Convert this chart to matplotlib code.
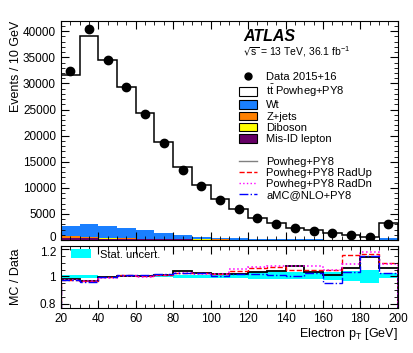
import numpy as np
import matplotlib
matplotlib.use('Agg')
import matplotlib.pyplot as plt
import matplotlib.transforms as mtransforms
from matplotlib.lines import Line2D
from matplotlib.patches import Patch
from matplotlib.ticker import MultipleLocator

plt.rcParams['font.family'] = ['Liberation Sans', 'DejaVu Sans']
plt.rcParams['mathtext.default'] = 'regular'

# Bins in electron pT [GeV]
edges = np.arange(20, 210, 10)
centers = edges[:-1] + 5

# Data and stacked predictions (events / 10 GeV)
data = [32400, 40500, 34500, 29300, 24200, 18550, 13450, 10300, 7690, 5900,
        4170, 3140, 2240, 1800, 1350, 960, 520, 3140]
ttbar = [28920, 36000, 31750, 27030, 22420, 17320, 13030, 9890, 7430, 5680,
         4050, 3070, 2240, 1730, 1270, 940, 530, 3000]
wt = [1940, 2460, 2185, 1910, 1595, 1160, 750, 473, 310, 232,
      182, 145, 113, 91, 67, 54, 40, 254]
zjets = [380, 250, 150, 100, 70, 50, 35, 25, 20, 15, 12, 10, 8, 6, 5, 4, 3, 10]
diboson = [40, 40, 35, 30, 25, 20, 16, 12, 10, 8, 6, 5, 4, 3, 3, 2, 2, 6]
misid = [420, 350, 280, 230, 190, 150, 120, 100, 80, 65, 50, 40, 35, 30, 25, 20, 15, 60]

# MC / Data ratios
r_nominal = [0.98, 0.963, 0.995, 1.0, 1.005, 1.007, 1.037, 1.022, 1.02, 1.02,
             1.034, 1.04, 1.076, 1.032, 1.012, 1.06, 1.139, 1.06]
r_radup = [0.976, 0.963, 0.993, 1.007, 1.005, 1.01, 1.024, 1.022, 1.015, 1.04,
           1.063, 1.068, 1.049, 1.049, 1.044, 1.156, 1.166, 1.098]
r_raddn = [0.976, 0.966, 0.99, 1.005, 0.993, 1.01, 1.024, 1.017, 1.015, 1.054,
           1.068, 1.078, 1.078, 1.078, 1.049, 1.093, 1.176, 1.093]
r_amc = [0.976, 0.961, 0.995, 1.01, 1.01, 1.015, 1.027, 1.024, 1.005, 1.015,
         1.02, 1.01, 1.005, 1.024, 0.951, 1.03, 1.151, 1.024]
stat_lo = [0.985, 0.985, 0.993, 0.993, 0.993, 0.993, 0.99, 0.99, 0.99, 0.988,
           0.983, 0.982, 0.98, 0.978, 0.975, 0.963, 0.955, 0.985]
stat_hi = [1.014, 1.014, 1.006, 1.006, 1.006, 1.007, 1.01, 1.012, 1.015, 1.025,
           1.033, 1.03, 1.03, 1.03, 1.03, 1.037, 1.05, 1.025]

fig = plt.figure(figsize=(4.14, 3.53), dpi=100)
ax = fig.add_axes([0.147, 0.320, 0.814, 0.621])
rax = fig.add_axes([0.147, 0.128, 0.814, 0.174])

# stack: mis-ID, diboson, Z+jets, Wt, ttbar
stack = [(misid, '#660066'),
         (diboson, '#ffff00'),
         (zjets, '#ff8000'),
         (wt, '#1a7fff'),
         (ttbar, 'white')]
base = np.zeros(len(centers))
for vals, col in stack:
    top = base + np.array(vals)
    ax.stairs(top, edges, baseline=base, fill=True, color=col, lw=0)
    base = top
ax.stairs(base, edges, color='black', lw=1.1)
ax.plot(centers, data, 'o', color='black', ms=6, zorder=5)

ax.set_xlim(20, 200)
ax.set_ylim(0, 42000)
ax.set_ylabel('Events / 10 GeV', loc='top', fontsize=9)
ax.yaxis.set_label_coords(-0.115, 1.0)
ax.tick_params(labelbottom=False)

for a in (ax, rax):
    a.tick_params(which='both', direction='in', top=True, right=True, labelsize=8.5)
    a.tick_params(which='major', length=6)
    a.tick_params(which='minor', length=3)
    a.xaxis.set_major_locator(MultipleLocator(20))
    a.xaxis.set_minor_locator(MultipleLocator(5))
ax.yaxis.set_major_locator(MultipleLocator(5000))
ax.yaxis.set_minor_locator(MultipleLocator(1000))

ax.text(0.54, 0.93, 'ATLAS', transform=ax.transAxes, fontsize=11.5,
        fontweight='bold', fontstyle='italic', va='center')
ax.text(0.54, 0.859, '$\\sqrt{s}$ = 13 TeV, 36.1 fb$^{-1}$', transform=ax.transAxes,
        fontsize=7.5, va='center')

handles = [
    Line2D([], [], marker='o', color='black', ls='none', ms=5),
    Patch(facecolor='white', edgecolor='black', lw=0.8),
    Patch(facecolor='#1a7fff', edgecolor='black', lw=0.8),
    Patch(facecolor='#ff8000', edgecolor='black', lw=0.8),
    Patch(facecolor='#ffff00', edgecolor='black', lw=0.8),
    Patch(facecolor='#660066', edgecolor='black', lw=0.8),
    Line2D([], [], color='none'),
    Line2D([], [], color='#808080', lw=1),
    Line2D([], [], color='red', ls='--', lw=1),
    Line2D([], [], color='magenta', ls=':', lw=1),
    Line2D([], [], color='blue', ls='-.', lw=1),
]
labels = ['Data 2015+16', 't$\\bar{t}$ Powheg+PY8', 'Wt', 'Z+jets', 'Diboson',
          'Mis-ID lepton', ' ', 'Powheg+PY8', 'Powheg+PY8 RadUp',
          'Powheg+PY8 RadDn', 'aMC@NLO+PY8']
ax.legend(handles, labels, loc='upper left', bbox_to_anchor=(0.53, 0.767),
          frameon=False, fontsize=8, handlelength=1.6, handleheight=0.8,
          labelspacing=0.1, handletextpad=0.8, borderpad=0, borderaxespad=0)

# ratio panel
rax.stairs(stat_hi, edges, baseline=stat_lo, fill=True, color='#00ffff', lw=0)
rax.stairs(r_nominal, edges, color='black', lw=1.3)
rax.stairs(r_radup, edges, color='red', ls='--', lw=1)
rax.stairs(r_raddn, edges, color='magenta', ls=':', lw=1.1)
rax.stairs(r_amc, edges, color='blue', ls='-.', lw=1)
rax.set_xlim(20, 200)
rax.set_ylim(0.77, 1.22)
rax.set_yticks([0.8, 1.0, 1.2])
rax.set_yticklabels(['0.8', '1', '1.2'])
rax.yaxis.set_minor_locator(MultipleLocator(0.05))
rax.set_ylabel('MC / Data', fontsize=9)
rax.yaxis.set_label_coords(-0.115, 0.5)
rax.set_xlabel('Electron p$_T$ [GeV]', loc='right', fontsize=9, labelpad=1)
rax.legend(handles=[Patch(facecolor='#00ffff', lw=0)], labels=['Stat. uncert.'],
           loc='upper left', bbox_to_anchor=(0.03, 0.95), frameon=False, fontsize=8,
           handlelength=1.8, handleheight=0.8, borderpad=0, borderaxespad=0)

# keep the "0" and "1.2" labels from touching
fig.canvas.draw()
up = mtransforms.ScaledTranslation(0, 2.5 / 72, fig.dpi_scale_trans)
down = mtransforms.ScaledTranslation(0, -1.5 / 72, fig.dpi_scale_trans)
for lab in ax.get_yticklabels():
    if lab.get_text() == '0':
        lab.set_transform(lab.get_transform() + up)
for lab in rax.get_yticklabels():
    if lab.get_text() == '1.2':
        lab.set_transform(lab.get_transform() + down)

fig.savefig('out.png', dpi=100)
